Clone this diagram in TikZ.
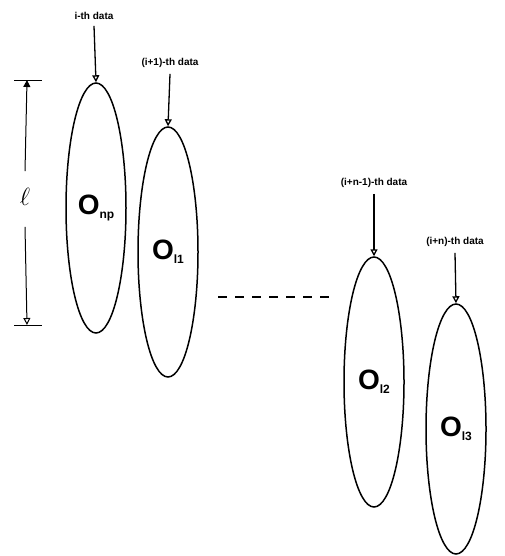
\documentclass[tikz,border=0pt]{standalone}
\usepackage{fontspec}
\setsansfont{Liberation Sans}
\usepackage{tikz}
\usetikzlibrary{arrows.meta, positioning, shapes.geometric}

\begin{document}
\begin{tikzpicture}[x=1pt, y=-1pt,
      blob/.style={draw, line width=1.5pt, ellipse, minimum width=60pt, minimum height=250pt, inner sep=0pt,
        font=\sffamily\bfseries\fontsize{28}{30}\selectfont},
      datalbl/.style={font=\sffamily\bfseries\fontsize{10}{12}\selectfont, inner sep=1pt},
      feed/.style={-{Triangle[open, length=7pt, width=7pt]}, line width=1.3pt}]
    \useasboundingbox (0,0) rectangle (504,556);
    % the four windows
    \node[blob] (np) at (96,208) {O\raisebox{-4pt}{\fontsize{12}{13}\selectfont np}};
    \node[blob] (l1) at (168,252) {O\raisebox{-4pt}{\fontsize{12}{13}\selectfont l1}};
    \node[blob] (l2) at (374,382) {O\raisebox{-4pt}{\fontsize{12}{13}\selectfont l2}};
    \node[blob] (l3) at (456,429) {O\raisebox{-4pt}{\fontsize{12}{13}\selectfont l3}};
    % incoming data
    \node[datalbl] (d0) at (94,16) {i-th data};
    \node[datalbl] (d1) at (170,63) {(i+1)-th data};
    \node[datalbl] (d2) at (374,183) {(i+n-1)-th data};
    \node[datalbl] (d3) at (455,242) {(i+n)-th data};
    \foreach \d/\o in {d0/np, d1/l1, d2/l2, d3/l3}
      \draw[feed] ([yshift=-5pt]\d.south) -- (\o.north);
    % gap between windows
    \coordinate (gapL) at (218,297);
    \coordinate (gapR) at (332,297);
    \draw[line width=2pt, dash pattern=on 9pt off 8pt] (gapL) -- (gapR);
    % length of a window
    \coordinate (lenT) at (27,80);
    \coordinate (lenB) at (27,325);
    \draw[line width=0.8pt] (14,80) -- (42,80);
    \draw[line width=0.8pt] (14,325) -- (42,325);
    \node[font=\fontsize{24}{26}\selectfont, inner sep=0pt] (len) at (25,197) {$\ell$};
    \draw[-{Triangle[length=7pt, width=7pt]}, line width=1pt] ([yshift=17pt]len.north) -- (lenT);
    \draw[-{Triangle[open, length=7pt, width=7pt]}, line width=1pt] ([yshift=-21pt]len.south) -- (lenB);
  \end{tikzpicture}
\end{document}
